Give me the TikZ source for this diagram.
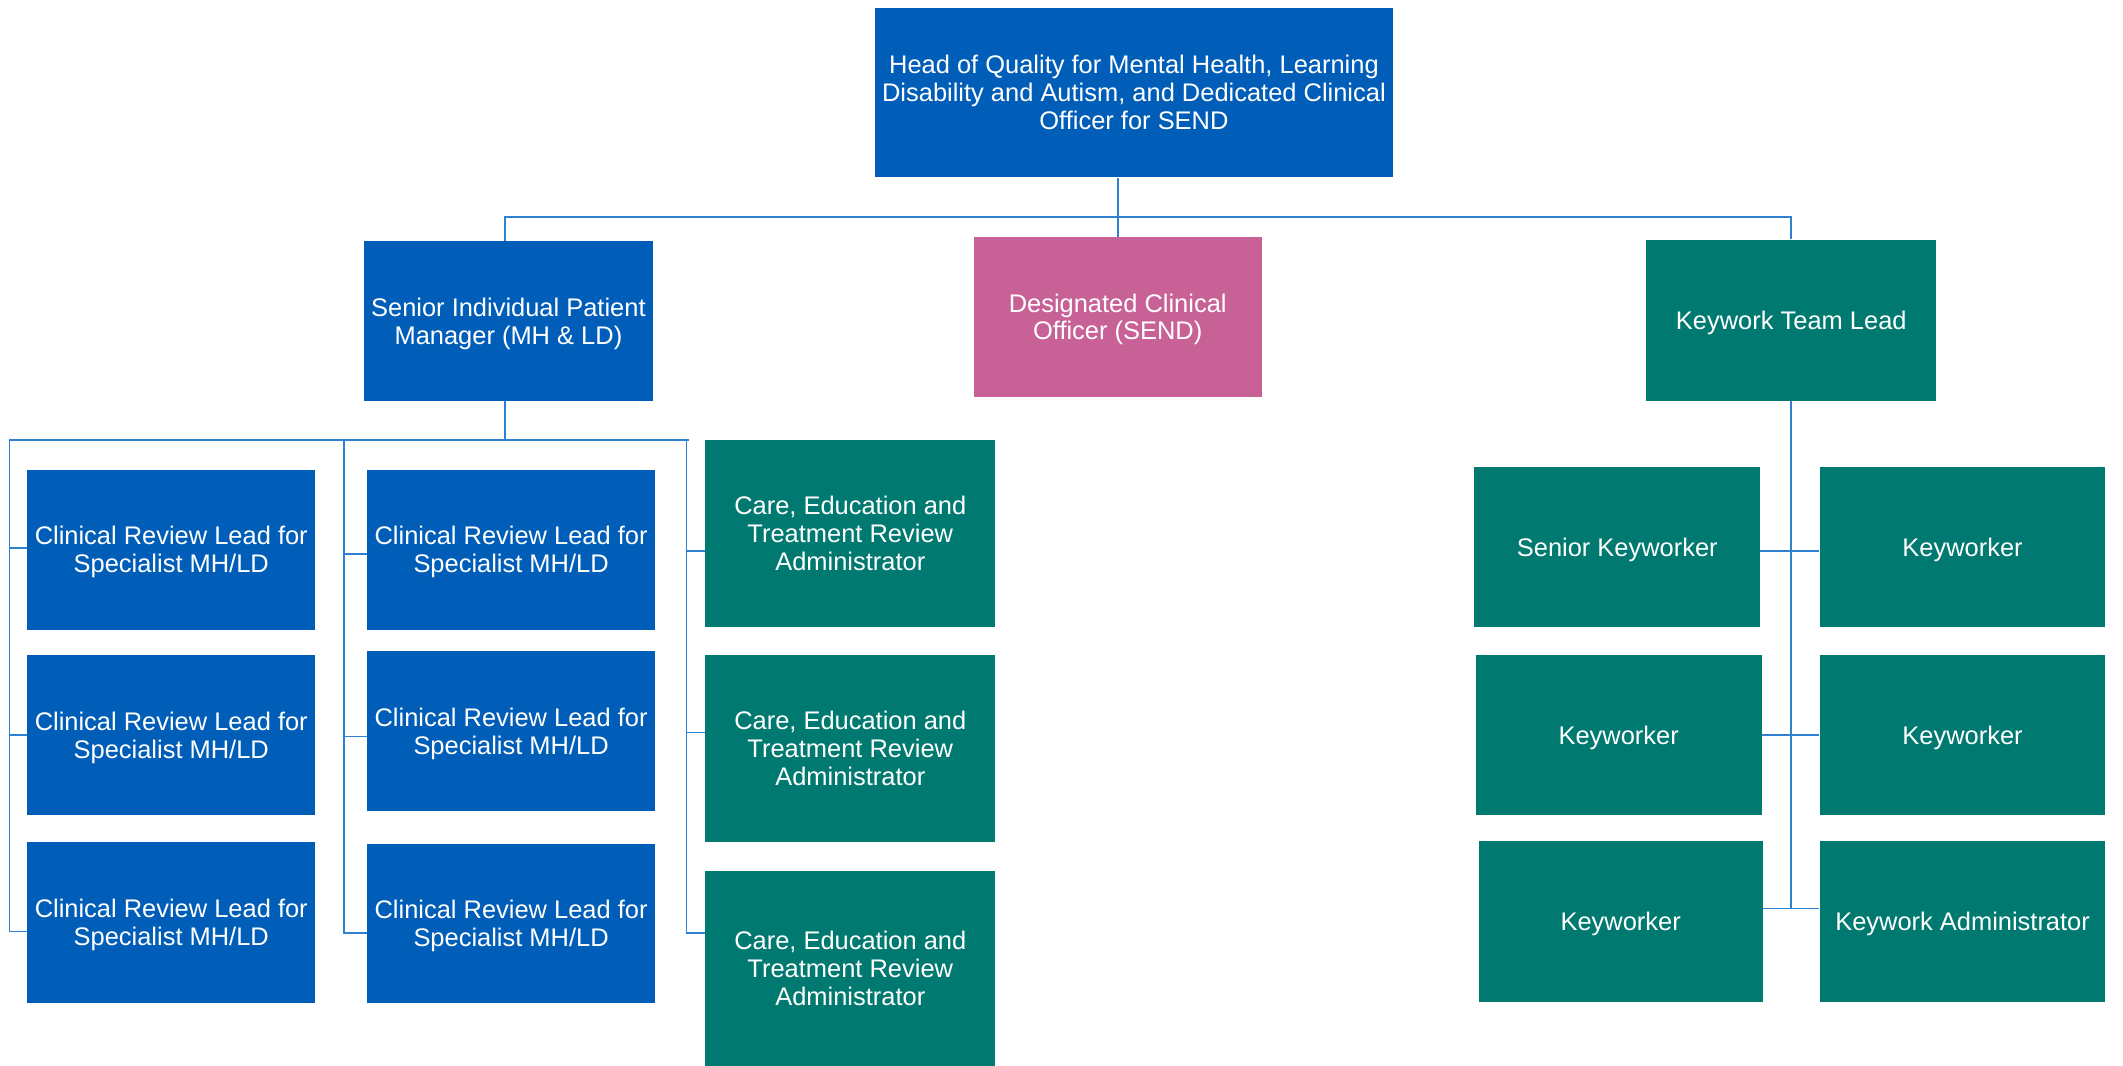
\documentclass[tikz,border=0pt]{standalone}
\usepackage{fontspec}
\setmainfont{Liberation Sans}
\definecolor{nhsblue}{RGB}{0,94,184}
\definecolor{nhsteal}{RGB}{0,122,112}
\definecolor{nhspink}{RGB}{200,97,150}
\definecolor{linkblue}{RGB}{46,128,210}
\newcommand\mytopstrut{\rule{0pt}{17.5pt}}
\tikzset{
  box/.style={rectangle, draw=none, inner sep=0pt, text=white, align=center,
    font=\fontsize{18.8}{20.6}\selectfont},
  bluebox/.style={box, fill=nhsblue},
  tealbox/.style={box, fill=nhsteal},
  pinkbox/.style={box, fill=nhspink},
  conn/.style={draw=linkblue, line width=1.3pt}
}
\begin{document}
\begin{tikzpicture}[x=1pt, y=-1pt]
\useasboundingbox (0,0) rectangle (1568,787);
\clip (0,0) rectangle (1568,787);
\fill[white] (0,0) rectangle (1568,787);

% top
\node[bluebox, minimum width=383pt, minimum height=125pt] (head) at (837.5,68.5)
  {Head of Quality for Mental Health, Learning\\Disability and Autism, and Dedicated Clinical\\Officer for SEND};

% second level
\node[bluebox, minimum width=213pt, minimum height=118pt] (sipm) at (375.5,237)
  {\mytopstrut Senior Individual Patient\\Manager (MH \& LD)};
\node[pinkbox, minimum width=213pt, minimum height=118pt] (dco) at (825.5,234)
  {\mytopstrut Designated Clinical\\Officer (SEND)};
\node[tealbox, minimum width=214pt, minimum height=119pt] (kwl) at (1323,236.5)
  {\mytopstrut Keywork Team Lead};

% clinical review leads
\node[bluebox, minimum width=213pt, minimum height=118pt] (c11) at (126.5,406) {\mytopstrut Clinical Review Lead for\\Specialist MH/LD};
\node[bluebox, minimum width=213pt, minimum height=118pt] (c12) at (126.5,543) {\mytopstrut Clinical Review Lead for\\Specialist MH/LD};
\node[bluebox, minimum width=213pt, minimum height=119pt] (c13) at (126.5,681.5) {\mytopstrut Clinical Review Lead for\\Specialist MH/LD};
\node[bluebox, minimum width=213pt, minimum height=118pt] (c21) at (377.5,406) {\mytopstrut Clinical Review Lead for\\Specialist MH/LD};
\node[bluebox, minimum width=213pt, minimum height=118pt] (c22) at (377.5,540) {\mytopstrut Clinical Review Lead for\\Specialist MH/LD};
\node[bluebox, minimum width=213pt, minimum height=118pt] (c23) at (377.5,682) {\mytopstrut Clinical Review Lead for\\Specialist MH/LD};

% administrators
\node[tealbox, minimum width=214pt, minimum height=138pt] (a1) at (628,394) {Care, Education and\\Treatment Review\\Administrator};
\node[tealbox, minimum width=214pt, minimum height=138pt] (a2) at (628,553) {Care, Education and\\Treatment Review\\Administrator};
\node[tealbox, minimum width=214pt, minimum height=144pt] (a3) at (628,715) {Care, Education and\\Treatment Review\\Administrator};

% keyworkers
\node[tealbox, minimum width=211pt, minimum height=118pt] (sk) at (1194.5,404) {\mytopstrut Senior Keyworker};
\node[tealbox, minimum width=211pt, minimum height=118pt] (k1) at (1449.5,404) {\mytopstrut Keyworker};
\node[tealbox, minimum width=211pt, minimum height=118pt] (k2) at (1195.5,543) {\mytopstrut Keyworker};
\node[tealbox, minimum width=211pt, minimum height=118pt] (k3) at (1449.5,543) {\mytopstrut Keyworker};
\node[tealbox, minimum width=210pt, minimum height=119pt] (k4) at (1197,680.5) {\mytopstrut Keyworker};
\node[tealbox, minimum width=211pt, minimum height=119pt] (ka) at (1449.5,680.5) {\mytopstrut Keywork Administrator};

% top connectors
\coordinate (bus) at (825,160);
\draw[conn] (dco.north) -- (dco.north |- head.south);
\coordinate (sipmtop) at ([xshift=-2.5pt]sipm.north);
\draw[conn] (sipmtop) |- (bus) -| (kwl.north);

% left tree
\coordinate (sipmbot) at ([xshift=-2.5pt]sipm.south);
\coordinate (lbL) at (7,325);
\coordinate (lbM) at (254,325);
\coordinate (lbA) at (507,325);
\coordinate (lbR) at (509,325);
\draw[conn] (sipmbot) -- (sipmbot |- lbL);
\draw[conn] (lbL) -- (lbR);

\coordinate (p11) at ([yshift=1pt]c11.west);
\coordinate (p12) at (c12.west);
\coordinate (p13) at ([yshift=-6.5pt]c13.west);
\coordinate (p21) at ([yshift=-3pt]c21.west);
\coordinate (p22) at ([yshift=-4pt]c22.west);
\coordinate (p23) at ([yshift=-7pt]c23.west);
\coordinate (pa1) at ([yshift=-13pt]a1.west);
\coordinate (pa2) at ([yshift=12pt]a2.west);
\coordinate (pa3) at ([yshift=26pt]a3.west);

\draw[conn] (lbL) |- (p13);
\draw[conn] (lbL |- p11) -- (p11);
\draw[conn] (lbL |- p12) -- (p12);
\draw[conn] (lbM) |- (p23);
\draw[conn] (lbM |- p21) -- (p21);
\draw[conn] (lbM |- p22) -- (p22);
\draw[conn] (lbA) |- (pa3);
\draw[conn] (lbA |- pa1) -- (pa1);
\draw[conn] (lbA |- pa2) -- (pa2);

% right tree
\coordinate (psk) at ([yshift=-3pt]sk.east);
\coordinate (pk1) at ([yshift=-3pt]k1.west);
\coordinate (pk2) at (k2.east);
\coordinate (pk3) at (k3.west);
\coordinate (pk4) at ([yshift=9.5pt]k4.east);
\coordinate (pka) at ([yshift=9.5pt]ka.west);
\draw[conn] (kwl.south) -- (kwl.south |- pk4);
\draw[conn] (psk) -- (pk1);
\draw[conn] (pk2) -- (pk3);
\draw[conn] (pk4) -- (pka);
\end{tikzpicture}
\end{document}
